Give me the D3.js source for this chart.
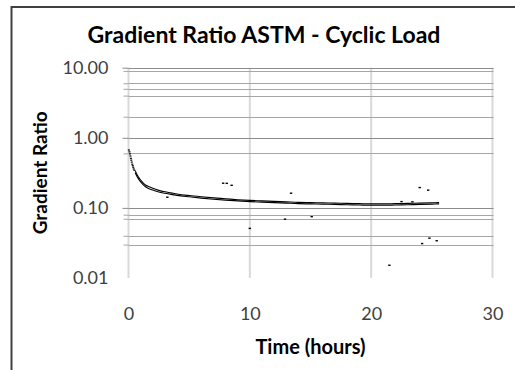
<!DOCTYPE html>
<html>
<head>
<meta charset="utf-8">
<script src="https://cdn.jsdelivr.net/npm/d3@7/dist/d3.min.js"></script>
<style>
  body { margin: 0; background: #fff; }
  text { font-family: Lato, "Open Sans", sans-serif; }
</style>
</head>
<body>
<div id="chart"></div>
<script>
// axis ticks
const xTicks = [0, 10, 20, 30]
const yMajor = [10, 1, 0.1, 0.01]
// minor grid lines that show in the picture
const yMinor = [9, 6, 5, 4, 2, 0.6, 0.08, 0.07, 0.04, 0.03]

// first readings, sparse
const startTime = [0.03, 0.08, 0.12, 0.16, 0.2, 0.23, 0.27, 0.31, 0.35, 0.39, 0.43, 0.48]
const startRatio = [0.67, 0.63, 0.59, 0.55, 0.51, 0.48, 0.45, 0.42, 0.4, 0.38, 0.36, 0.345]

// dense band of readings (upper and lower edge)
const bandTime = [0.55, 0.7, 0.85, 1, 1.2, 1.4, 1.7, 2, 2.5, 3, 3.5, 4, 5, 6, 7, 8, 9, 10, 11, 12, 13, 14, 15, 16, 17, 18, 19, 20, 21, 22, 23, 24, 25, 25.6]
const bandUpper = [0.34, 0.3, 0.27, 0.25, 0.228, 0.212, 0.2, 0.19, 0.178, 0.17, 0.164, 0.158, 0.15, 0.144, 0.139, 0.135, 0.131, 0.128, 0.126, 0.124, 0.122, 0.12, 0.119, 0.118, 0.117, 0.116, 0.115, 0.114, 0.114, 0.115, 0.116, 0.117, 0.118, 0.119]
const bandLower = [0.32, 0.28, 0.255, 0.235, 0.215, 0.2, 0.188, 0.18, 0.169, 0.162, 0.156, 0.151, 0.144, 0.138, 0.133, 0.129, 0.126, 0.123, 0.121, 0.119, 0.117, 0.115, 0.114, 0.113, 0.112, 0.111, 0.11, 0.109, 0.109, 0.11, 0.111, 0.112, 0.113, 0.114]

// stray readings off the band
const strayTime = [3.2, 7.8, 8.1, 8.5, 10.0, 12.9, 13.4, 15.1, 21.5, 22.5, 23.4, 24.0, 24.2, 24.7, 24.8, 25.4]
const strayRatio = [0.142, 0.225, 0.224, 0.21, 0.051, 0.069, 0.162, 0.075, 0.0152, 0.123, 0.122, 0.195, 0.031, 0.179, 0.037, 0.034]

const W = 515, H = 370
const svg = d3.select('#chart').append('svg')
  .attr('width', W).attr('height', H)
  .style('display', 'block')

// chart frame (runs off the right / bottom edge)
svg.append('rect')
  .attr('x', 11.5).attr('y', 7)
  .attr('width', 700).attr('height', 600)
  .attr('fill', 'none').attr('stroke', '#404040').attr('stroke-width', 2)

const x = d3.scaleLinear().domain([0, 30]).range([128.5, 492.5])
const y = d3.scaleLog().domain([0.01, 10]).range([278, 67.7])

// vertical grid
svg.append('g').selectAll('line').data(xTicks).enter().append('line')
  .attr('x1', d => x(d)).attr('x2', d => x(d))
  .attr('y1', y(10)).attr('y2', y(0.01))
  .attr('stroke', '#d9d9d9').attr('stroke-width', 2)

// horizontal grid
svg.append('g').selectAll('line').data(yMinor).enter().append('line')
  .attr('x1', x(0)).attr('x2', x(30) + 1)
  .attr('y1', d => Math.round(y(d)) + 0.5).attr('y2', d => Math.round(y(d)) + 0.5)
  .attr('stroke', '#a6a6a6').attr('stroke-width', 1)
svg.append('g').selectAll('line').data(yMajor.slice(0, 3)).enter().append('line')
  .attr('x1', x(0)).attr('x2', x(30) + 1)
  .attr('y1', d => Math.round(y(d)) + 0.5).attr('y2', d => Math.round(y(d)) + 0.5)
  .attr('stroke', '#8c8c8c').attr('stroke-width', 1)

// y axis
let yAxis = svg.append('g')
  .attr('transform', 'translate(' + x(0) + ',0)')
  .call(d3.axisLeft(y).tickValues(yMajor).tickFormat(d3.format('.2f')).tickSize(6).tickPadding(14))
yAxis.select('.domain').remove()
yAxis.selectAll('line').attr('stroke', '#8c8c8c')
yAxis.selectAll('text').attr('font-size', 18).attr('fill', '#404040')
yAxis.selectAll('.tick').filter(d => d == 0.01).select('line').remove()

let yMinorAxis = svg.append('g')
  .attr('transform', 'translate(' + x(0) + ',0)')
  .call(d3.axisLeft(y).tickValues(yMinor).tickFormat('').tickSize(5))
yMinorAxis.select('.domain').remove()
yMinorAxis.selectAll('line').attr('stroke', '#a6a6a6')

// x axis
let xAxis = svg.append('g')
  .attr('transform', 'translate(0,' + y(0.01) + ')')
  .call(d3.axisBottom(x).tickValues(xTicks).tickSize(0).tickPadding(29))
xAxis.select('.domain').remove()
xAxis.selectAll('text').attr('font-size', 18).attr('fill', '#404040')

// data band
const bandUp = bandTime.map((t, i) => [t, bandUpper[i]])
const bandLo = bandTime.map((t, i) => [t, bandLower[i]])
const line = d3.line().x(d => x(d[0])).y(d => y(d[1])).curve(d3.curveMonotoneX)
svg.append('path').datum(bandUp).attr('d', line)
  .attr('fill', 'none').attr('stroke', '#000').attr('stroke-width', 1.1)
svg.append('path').datum(bandLo).attr('d', line)
  .attr('fill', 'none').attr('stroke', '#000').attr('stroke-width', 1.1)

const startPts = startTime.map((t, i) => [t, startRatio[i]])
svg.append('g').selectAll('rect').data(startPts).enter().append('rect')
  .attr('x', d => x(d[0]) - 1).attr('y', d => y(d[1]) - 0.6)
  .attr('width', 2).attr('height', 1.2).attr('fill', '#000')

const strayPts = strayTime.map((t, i) => [t, strayRatio[i]])
svg.append('g').selectAll('rect').data(strayPts).enter().append('rect')
  .attr('x', d => x(d[0]) - 1.2).attr('y', d => y(d[1]) - 0.7)
  .attr('width', 2.4).attr('height', 1.4).attr('fill', '#000')

// titles
svg.append('text')
  .attr('x', 264).attr('y', 43)
  .attr('text-anchor', 'middle')
  .attr('font-size', 23).attr('font-weight', 'bold').attr('fill', '#000')
  .text('Gradient Ratio ASTM - Cyclic Load')

svg.append('text')
  .attr('x', x(15)).attr('y', 354)
  .attr('text-anchor', 'middle')
  .attr('font-size', 20).attr('font-weight', 'bold').attr('fill', '#000')
  .text('Time (hours)')

svg.append('text')
  .attr('transform', 'translate(47,' + y(Math.sqrt(0.1)) + ') rotate(-90)')
  .attr('text-anchor', 'middle')
  .attr('font-size', 19).attr('font-weight', 'bold').attr('fill', '#000')
  .text('Gradient Ratio')
</script>
</body>
</html>
